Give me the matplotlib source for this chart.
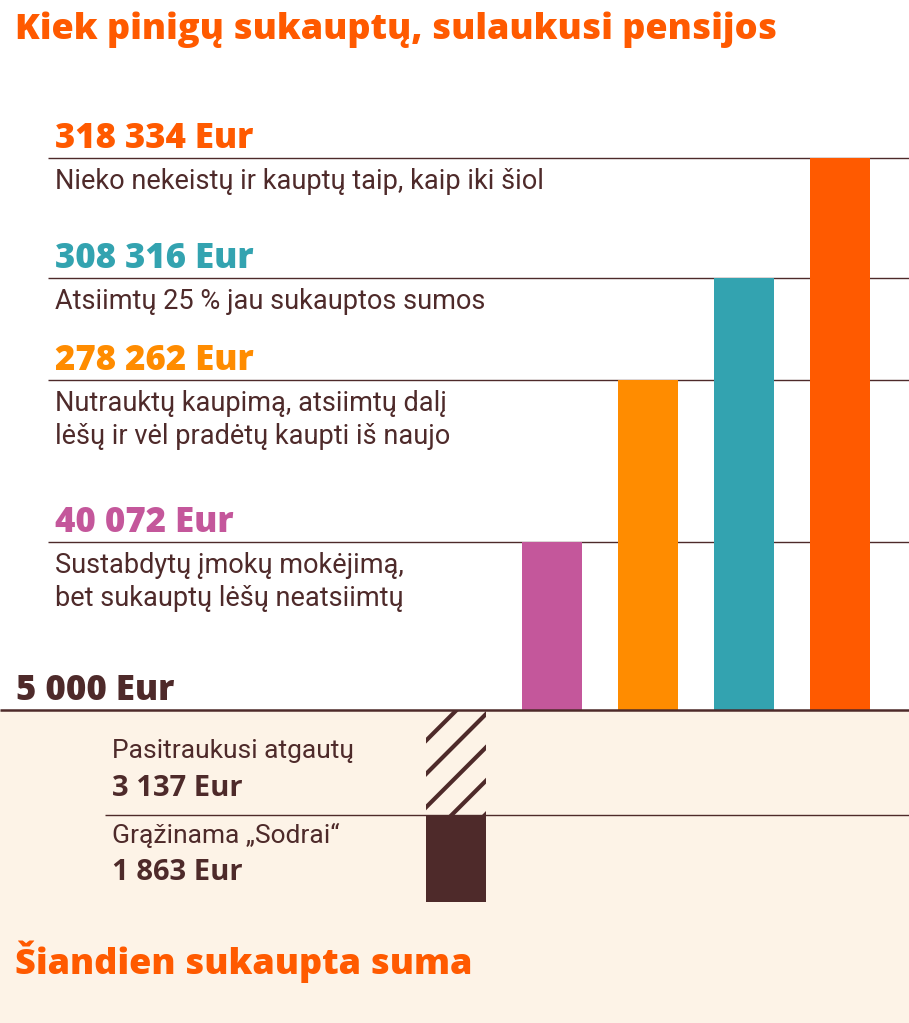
"""Pension savings bars - Lithuanian infographic."""

import matplotlib.pyplot as plt
import numpy as np

plt.rcParams["font.family"] = ["Roboto", "DejaVu Sans"]
plt.rcParams["hatch.linewidth"] = 3.0

# ---- data ----
values = [40072, 278262, 308316, 318334]
value_labels = ["40 072 Eur", "278 262 Eur", "308 316 Eur", "318 334 Eur"]
descriptions = [
    "Sustabdytų įmokų mokėjimą,\nbet sukauptų lėšų neatsiimtų",
    "Nutrauktų kaupimą, atsiimtų dalį\nlėšų ir vėl pradėtų kaupti iš naujo",
    "Atsiimtų 25 % jau sukauptos sumos",
    "Nieko nekeistų ir kauptų taip, kaip iki šiol",
]
today_total = 5000
returned = 3137
to_sodra = 1863

# ---- style ----
BROWN = "#4E2A2A"
CREAM = "#FDF3E7"
BOLD = ["Open Sans", "DejaVu Sans"]
colors = ["#C4579B", "#FF8C00", "#33A3B0", "#FF5A00"]
bar_x = [552, 648, 744, 840]
label_x = [55, 55, 55, 55]
line_x0 = [48, 48, 48, 48]
down_x = 456
BW = 60

# piecewise scale (the infographic is not drawn to a linear scale)
bp_val = np.array([-8000, -5000, -3137, 0, 40072, 278262, 308316, 318334, 330000])
bp_pos = np.array([0, 121, 208, 313, 481, 643, 745, 865, 1023])


def fwd(v):
    return np.interp(v, bp_val, bp_pos)


def inv(p):
    return np.interp(p, bp_pos, bp_val)


fig = plt.figure(figsize=(9.09, 10.23), dpi=100)
ax = fig.add_axes([0, 0, 1, 1])
ax.set_yscale("function", functions=(fwd, inv))
ax.set_xlim(0, 909)
ax.set_ylim(-8000, 330000)
ax.axis("off")

# cream lower area
ax.axhspan(-8000, 0, color=CREAM, zorder=0)

# bars above baseline
for x, v, c, lbl, desc, lx, l0 in zip(
    bar_x, values, colors, value_labels, descriptions, label_x, line_x0
):
    ax.bar(x, v, width=BW, color=c, zorder=3)
    ax.hlines(v, l0, 909, color=BROWN, lw=1, zorder=2)
    ax.annotate(lbl, (lx, v), xytext=(0, 1), textcoords="offset points",
                fontsize=25, fontweight="heavy", family=BOLD, color=c,
                va="bottom")
    ax.annotate(desc, (lx, v), xytext=(0, -7), textcoords="offset points",
                fontsize=19.5, color=BROWN, va="top", linespacing=1.3)

# baseline and today's sum
ax.hlines(0, 0, 909, color=BROWN, lw=1.8, zorder=4)
ax.annotate(f"{today_total:,} Eur".replace(",", " "), (16, 0), xytext=(0, 1),
            textcoords="offset points", fontsize=25, fontweight="heavy",
            family=BOLD, color=BROWN, va="bottom")

# below baseline
ax.bar(down_x, -returned, width=BW, facecolor="none", edgecolor=BROWN,
       hatch="/", lw=0, zorder=3)
ax.bar(down_x, -to_sodra, bottom=-returned, width=BW, color=BROWN, zorder=3)
ax.hlines(-returned, 105, 909, color=BROWN, lw=1, zorder=2)

ax.annotate("Pasitraukusi atgautų", (112, 0), xytext=(0, -21),
            textcoords="offset points", fontsize=19, color=BROWN, va="top")
ax.annotate(f"{returned:,} Eur".replace(",", " "), (112, 0), xytext=(0, -46),
            textcoords="offset points", fontsize=21, fontweight="bold",
            family=BOLD, color=BROWN, va="top")
ax.annotate("Grąžinama „Sodrai“", (112, -returned), xytext=(0, -6),
            textcoords="offset points", fontsize=19, color=BROWN, va="top")
ax.annotate(f"{to_sodra:,} Eur".replace(",", " "), (112, -returned),
            xytext=(0, -31), textcoords="offset points", fontsize=21,
            fontweight="bold", family=BOLD, color=BROWN, va="top")

fig.text(15 / 909, 1 - 30 / 1023, "Kiek pinigų sukauptų, sulaukusi pensijos",
         fontsize=26, fontweight="heavy", family=BOLD, color="#FF5A00",
         va="center")
fig.text(15 / 909, 1 - 962 / 1023, "Šiandien sukaupta suma",
         fontsize=26, fontweight="heavy", family=BOLD, color="#FF5A00",
         va="center")

fig.savefig("out.png", dpi=100, facecolor="white")
